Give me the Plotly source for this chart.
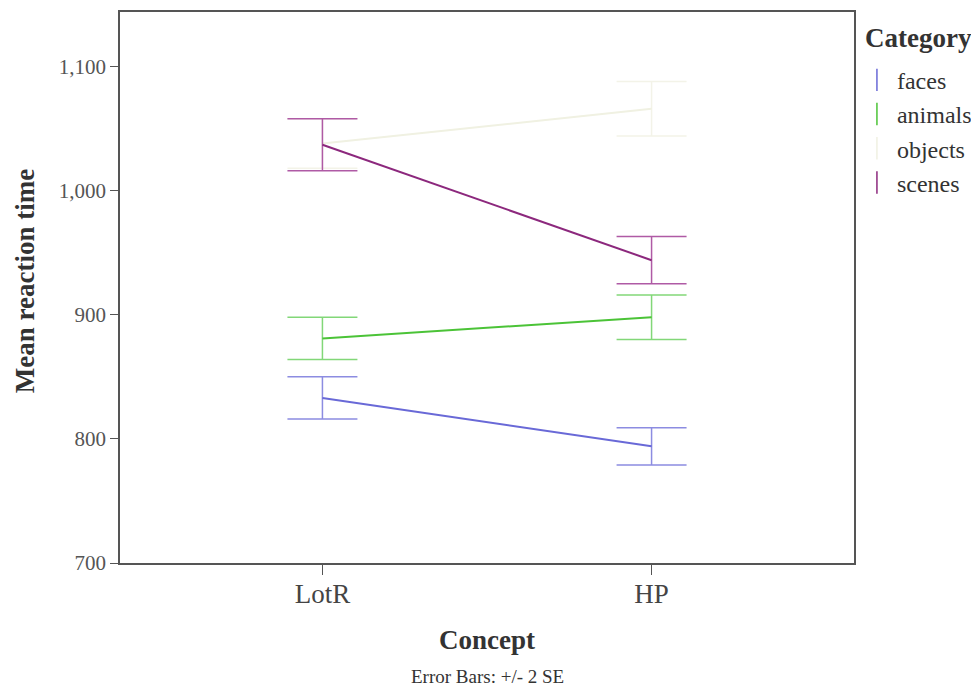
import plotly.graph_objects as go

concepts = ["LotR", "HP"]
categories = ["faces", "animals", "objects", "scenes"]
faces_mean = [833, 794]
faces_err = [17, 15]
animals_mean = [881, 898]
animals_err = [17, 18]
objects_mean = [1038, 1066]
objects_err = [20, 22]
scenes_mean = [1037, 944]
scenes_err = [21, 19]

means = [faces_mean, animals_mean, objects_mean, scenes_mean]
errs = [faces_err, animals_err, objects_err, scenes_err]
line_colors = ["rgb(105,105,215)", "rgb(75,195,55)", "rgb(240,241,226)", "rgb(140,40,125)"]
err_colors = ["rgb(140,140,225)", "rgb(130,215,120)", "rgb(243,243,232)", "rgb(175,90,165)"]

FONT = "Liberation Serif, Times New Roman, serif"

fig = go.Figure()
for name, m, e, lc, ec in zip(categories, means, errs, line_colors, err_colors):
    fig.add_trace(go.Scatter(
        x=concepts, y=m, mode="lines", name=name, showlegend=False,
        line=dict(color=lc, width=2),
        error_y=dict(type="data", array=e, visible=True, color=ec, thickness=1.5, width=35),
    ))
    fig.add_trace(go.Scatter(
        x=[None], y=[None], mode="markers", name=name, showlegend=True,
        marker=dict(symbol="line-ns-open", size=16, line=dict(color=lc, width=1.5), color=lc),
    ))

fig.update_layout(
    width=971, height=682,
    margin=dict(l=112, r=125, t=2, b=127),
    paper_bgcolor="white", plot_bgcolor="white",
    font=dict(family=FONT, color="#333333"),
    showlegend=True,
    legend=dict(
        x=1.004, y=0.917, xanchor="left", yanchor="top",
        font=dict(size=24, family=FONT, color="#333"),
        itemwidth=30, tracegroupgap=0, bgcolor="rgba(0,0,0,0)",
    ),
    xaxis=dict(
        type="category", range=[-0.615, 1.615],
        showline=True, linecolor="#555", linewidth=1.5, mirror=True,
        ticks="outside", ticklen=10, tickcolor="#555",
        tickfont=dict(size=27, family=FONT, color="#444"),
        ticklabelstandoff=-4,
        showgrid=False, zeroline=False,
    ),
    yaxis=dict(
        range=[700, 1144], tickvals=[700, 800, 900, 1000, 1100], tickformat=",",
        showline=True, linecolor="#555", linewidth=1.5, mirror=True,
        ticks="outside", ticklen=8, tickcolor="#555",
        tickfont=dict(size=21, family=FONT, color="#555"),
        showgrid=False, zeroline=False,
    ),
    annotations=[
        dict(text="<b>Category</b>", xref="paper", yref="paper", x=1.0123, y=0.953,
             xanchor="left", yanchor="middle", showarrow=False,
             font=dict(size=27, family=FONT, color="#333")),
        dict(text="<b>Concept</b>", xref="paper", yref="paper", x=0.5, y=-0.139,
             xanchor="center", yanchor="middle", showarrow=False,
             font=dict(size=27, family=FONT, color="#333")),
        dict(text="<b>Mean reaction time</b>", xref="paper", yref="paper", x=-0.129, y=0.512,
             xanchor="center", yanchor="middle", showarrow=False, textangle=-90,
             font=dict(size=27, family=FONT, color="#333")),
        dict(text="Error Bars: +/- 2 SE", xref="paper", yref="paper", x=0.5, y=-0.206,
             xanchor="center", yanchor="middle", showarrow=False,
             font=dict(size=19, family=FONT, color="#333")),
    ],
)

fig.write_html("out.html")
